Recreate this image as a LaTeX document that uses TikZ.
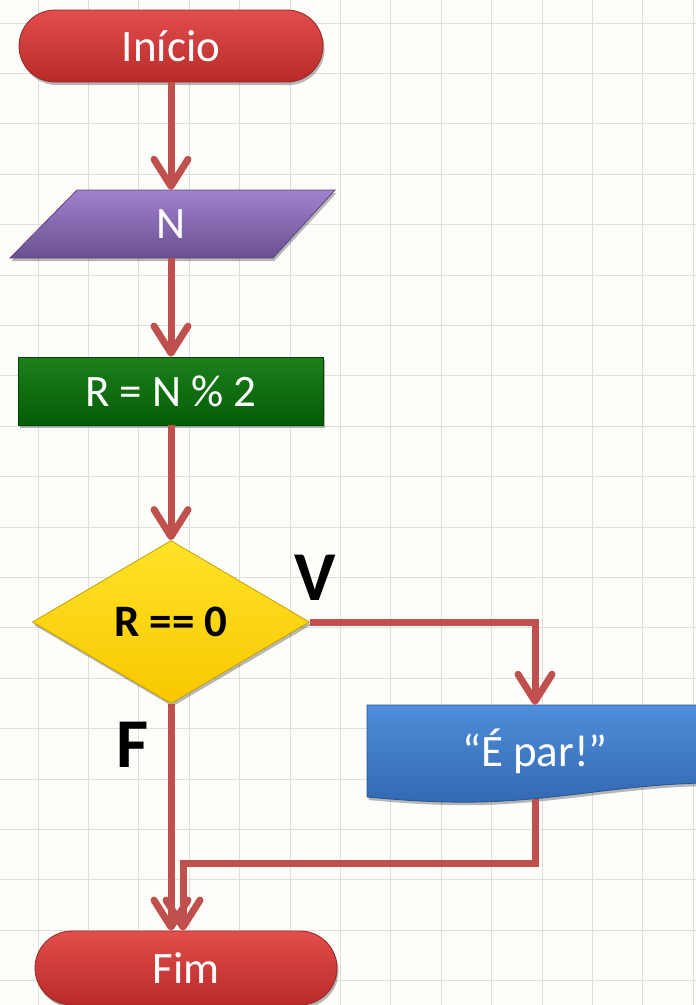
\documentclass[tikz,border=0pt]{standalone}
\usepackage{fontspec}
\setmainfont{Carlito}
\usetikzlibrary{arrows.meta,shapes.geometric,shadows,calc}
\definecolor{arrowred}{RGB}{192,80,77}
\definecolor{gridc}{RGB}{222,222,220}
\definecolor{bgc}{RGB}{253,253,250}
\definecolor{termtop}{RGB}{226,78,76}
\definecolor{termbot}{RGB}{184,42,40}
\definecolor{termdraw}{RGB}{150,40,38}
\definecolor{inptop}{RGB}{160,130,205}
\definecolor{inpbot}{RGB}{106,80,145}
\definecolor{inpdraw}{RGB}{90,70,125}
\definecolor{proctop}{RGB}{28,128,28}
\definecolor{procbot}{RGB}{4,92,4}
\definecolor{procdraw}{RGB}{0,70,0}
\definecolor{dectop}{RGB}{255,226,40}
\definecolor{decbot}{RGB}{248,200,0}
\definecolor{decdraw}{RGB}{200,160,0}
\definecolor{msgtop}{RGB}{78,142,218}
\definecolor{msgbot}{RGB}{52,104,178}
\definecolor{msgdraw}{RGB}{40,85,150}
\begin{document}
\begin{tikzpicture}[x=1pt,y=-1pt,
  shad/.style={drop shadow={opacity=0.28,shadow xshift=1.5pt,shadow yshift=-3pt,fill=black}},
  txt/.style={text=white,font=\fontsize{45}{50}\selectfont},
  term/.style={rectangle,rounded corners=36pt,minimum width=304pt,minimum height=72pt,
    top color=termtop,bottom color=termbot,draw=termdraw,line width=0.8pt,shad,txt,inner sep=0pt},
  proc/.style={rectangle,minimum width=305pt,minimum height=68pt,
    top color=proctop,bottom color=procbot,draw=procdraw,line width=0.8pt,shad,txt,inner sep=0pt},
  dec/.style={diamond,minimum width=277pt,minimum height=163pt,inner sep=0pt,
    top color=dectop,bottom color=decbot,draw=decdraw,line width=0.8pt,shad,
    font=\fontsize{45}{50}\selectfont\bfseries},
  lbl/.style={font=\fontsize{70}{75}\selectfont\bfseries,text=black},
  conn/.style={draw=arrowred,line width=7pt},
  arr/.style={conn,-{Straight Barb[length=27pt,width=34pt,round]}}
]
\useasboundingbox (0,0) rectangle (696,1005);
\fill[bgc] (0,0) rectangle (696,1005);
\foreach \i in {0,...,13} \draw[gridc,line width=1pt] (38+50.4*\i,0) -- ++(0,1005);
\foreach \j in {0,...,19} \draw[gridc,line width=1pt] (0,23+50.4*\j) -- ++(696,0);

% shapes
\node[term] (start) at (171,46) {Início};

\path[top color=inptop,bottom color=inpbot,draw=inpdraw,line width=0.8pt,shad]
  (77,190) -- (335,190) -- (273,258) -- (10,258) -- cycle;
\node[txt,minimum height=68pt,inner sep=0pt] (inp) at (171,224) {N};

\node[proc] (calc) at (171,391) {R = N \% 2};

\node[dec] (test) at (171,622) {R == 0};

\path[top color=msgtop,bottom color=msgbot,draw=msgdraw,line width=0.8pt,shad]
  (367,705) -- (703,705) -- (703,783)
  .. controls (620,785) and (560,800) .. (480,802)
  .. controls (430,803) and (390,799) .. (367,797) -- cycle;
\node[txt,minimum width=336pt,minimum height=92pt,inner sep=0pt] (msg) at (535,751) {“É par!”};

\node[term,minimum width=302pt,minimum height=74pt,rounded corners=37pt] (fim) at (186,968) {Fim};

\node[lbl] (vlab) at (315,578) {V};
\node[lbl] (flab) at (133,745) {F};

% connectors
\draw[arr] (start.south) -- (inp.north);
\draw[arr] (inp.south) -- (calc.north);
\draw[arr] (calc.south) -- (test.north);
\draw[arr] (test.east) -| (msg.north);
\coordinate (j) at (183,863);
\draw[arr] (test.south) -- (test.south |- fim.north);
\draw[arr] ($(msg.south)+(0,2)$) |- (j) -- (j |- fim.north);
\end{tikzpicture}
\end{document}
